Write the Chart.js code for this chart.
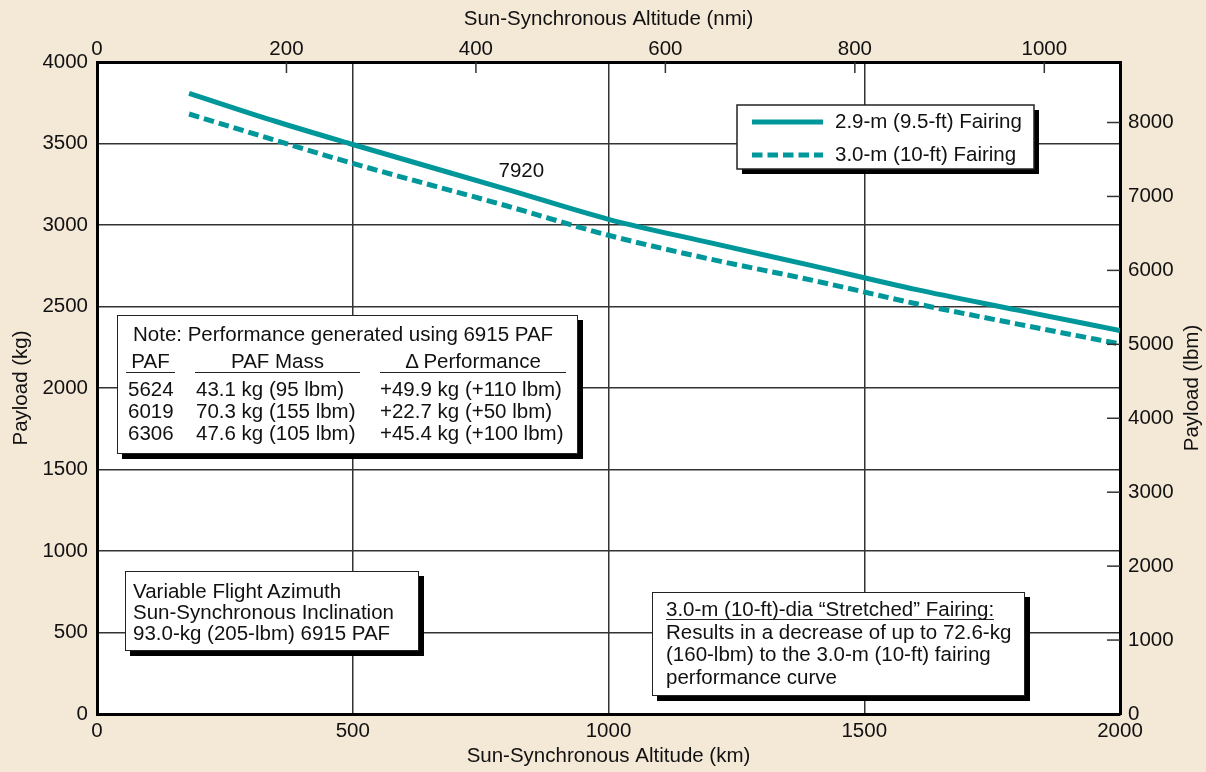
<!DOCTYPE html>
<html>
<head>
<meta charset="utf-8">
<script src="https://cdn.jsdelivr.net/npm/chart.js@4.4.1/dist/chart.umd.min.js"></script>
<style>
body { margin: 0; background: #f4e8d7; }
#wrap { position: relative; width: 1206px; height: 772px; font-family: "Liberation Sans", Arial, sans-serif; font-size: 20.5px; color: #111; }
#wrap canvas { position: absolute; left: 0; top: 0; }
.box { position: absolute; background: #fff; border: 1.5px solid #222; box-shadow: 5px 5px 0 #000; box-sizing: border-box; }
.box div { position: absolute; white-space: nowrap; line-height: 22px; }
.hd { text-align: center; border-bottom: 1.5px solid #222; }
</style>
</head>
<body>
<div id="wrap">
  <canvas id="payloadChart" width="1206" height="772"></canvas>

  <div class="box" style="left:117px;top:315px;width:461px;height:139px;">
    <div style="left:15px;top:7px;">Note: Performance generated using 6915 PAF</div>
    <div class="hd" style="left:8px;top:34px;width:49px;">PAF</div>
    <div class="hd" style="left:77px;top:34px;width:165px;">PAF Mass</div>
    <div class="hd" style="left:262px;top:34px;width:186px;">&Delta; Performance</div>
    <div style="left:10px;top:62px;">5624</div>
    <div style="left:78px;top:62px;">43.1 kg (95 lbm)</div>
    <div style="left:262px;top:62px;">+49.9 kg (+110 lbm)</div>
    <div style="left:10px;top:84px;">6019</div>
    <div style="left:78px;top:84px;">70.3 kg (155 lbm)</div>
    <div style="left:262px;top:84px;">+22.7 kg (+50 lbm)</div>
    <div style="left:10px;top:106px;">6306</div>
    <div style="left:78px;top:106px;">47.6 kg (105 lbm)</div>
    <div style="left:262px;top:106px;">+45.4 kg (+100 lbm)</div>
  </div>

  <div class="box" style="left:125px;top:571px;width:294px;height:80px;">
    <div style="left:7px;top:8px;">Variable Flight Azimuth</div>
    <div style="left:7px;top:29px;">Sun-Synchronous Inclination</div>
    <div style="left:7px;top:50px;">93.0-kg (205-lbm) 6915 PAF</div>
  </div>

  <div class="box" style="left:652px;top:592px;width:373px;height:104px;">
    <div style="left:13px;top:5px;border-bottom:1.5px solid #222;line-height:21px;">3.0-m (10-ft)-dia &ldquo;Stretched&rdquo; Fairing:</div>
    <div style="left:13px;top:28px;">Results in a decrease of up to 72.6-kg</div>
    <div style="left:13px;top:50px;">(160-lbm) to the 3.0-m (10-ft) fairing</div>
    <div style="left:13px;top:73px;">performance curve</div>
  </div>
</div>

<script>
// curves (km, kg)
var altitudeKm = [180, 350, 500, 800, 1000, 1200, 1400, 1600, 1800, 2000];
var payload29Kg = [3808, 3635, 3494, 3220, 3035, 2890, 2749, 2605, 2478, 2352];
var payload30Kg = [3681, 3518, 3378, 3118, 2937, 2790, 2660, 2518, 2392, 2270];

var seriesNames = ['2.9-m (9.5-ft) Fairing', '3.0-m (10-ft) Fairing'];

var kmTicks = [0, 500, 1000, 1500, 2000];
var nmiTicks = [0, 200, 400, 600, 800, 1000];
var kgTicks = [0, 500, 1000, 1500, 2000, 2500, 3000, 3500, 4000];
var lbmTicks = [0, 1000, 2000, 3000, 4000, 5000, 6000, 7000, 8000];

var KM_PER_NMI = 1.852;
var LBM_PER_KG = 2.20462;

var teal = '#00979b';
var pageBg = '#f4e8d7';

Chart.defaults.font.family = '"Liberation Sans", Arial, sans-serif';
Chart.defaults.font.size = 20.5;
Chart.defaults.color = '#111';

function pts(ys) {
  return altitudeKm.map(function (x, i) { return { x: x, y: ys[i] }; });
}
function useTicks(list) {
  return function (s) { s.ticks = list.map(function (v) { return { value: v }; }); };
}
function plain(v) { return String(v); }

var decor = {
  id: 'decor',
  beforeDraw: function (chart) {
    var c = chart.ctx, a = chart.chartArea;
    c.save();
    c.fillStyle = pageBg;
    c.fillRect(0, 0, chart.width, chart.height);
    c.fillStyle = '#fff';
    c.fillRect(a.left, a.top, a.right - a.left, a.bottom - a.top);
    c.restore();
  },
  afterDraw: function (chart) {
    var c = chart.ctx, a = chart.chartArea;
    var sx2 = chart.scales.x2, sy2 = chart.scales.y2;
    c.save();
    // inside tick marks for top and right axes
    c.strokeStyle = '#333';
    c.lineWidth = 1.5;
    nmiTicks.forEach(function (v) {
      if (v === 0) return;
      var px = sx2.getPixelForValue(v);
      c.beginPath(); c.moveTo(px, a.top); c.lineTo(px, a.top + 11); c.stroke();
    });
    lbmTicks.forEach(function (v) {
      if (v === 0) return;
      var py = sy2.getPixelForValue(v);
      c.beginPath(); c.moveTo(a.right, py); c.lineTo(a.right - 13, py); c.stroke();
    });

    // right axis title, reading bottom to top
    c.fillStyle = '#111';
    c.font = '20.5px "Liberation Sans", Arial, sans-serif';
    c.textAlign = 'center';
    c.textBaseline = 'middle';
    c.translate(1192, (a.top + a.bottom) / 2);
    c.rotate(-Math.PI / 2);
    c.fillText('Payload (lbm)', 0, 0);
    c.setTransform(1, 0, 0, 1, 0, 0);

    // stray value label
    c.textAlign = 'left';
    c.fillText('7920', chart.scales.x.getPixelForValue(785), chart.scales.y.getPixelForValue(3331));

    // legend box
    var bx = 737, by = 105, bw = 297, bh = 64;
    c.fillStyle = '#000';
    c.fillRect(bx + 5, by + 5, bw, bh);
    c.fillStyle = '#fff';
    c.fillRect(bx, by, bw, bh);
    c.strokeStyle = '#222';
    c.lineWidth = 1.5;
    c.strokeRect(bx, by, bw, bh);
    chart.data.datasets.forEach(function (ds, i) {
      var ly = by + 17 + i * 33;
      c.strokeStyle = ds.borderColor;
      c.lineWidth = ds.borderWidth;
      c.setLineDash(ds.borderDash || []);
      c.beginPath(); c.moveTo(bx + 15, ly); c.lineTo(bx + 86, ly); c.stroke();
      c.setLineDash([]);
      c.fillStyle = '#111';
      c.fillText(ds.label, bx + 98, ly);
    });
    c.restore();
  }
};

new Chart(document.getElementById('payloadChart'), {
  type: 'line',
  data: {
    datasets: [{
      label: seriesNames[0],
      data: pts(payload29Kg),
      borderColor: teal,
      borderWidth: 5,
      pointRadius: 0,
      cubicInterpolationMode: 'monotone'
    }, {
      label: seriesNames[1],
      data: pts(payload30Kg),
      borderColor: teal,
      borderWidth: 5,
      borderDash: [10.5, 5],
      pointRadius: 0,
      cubicInterpolationMode: 'monotone'
    }]
  },
  options: {
    responsive: false,
    animation: false,
    layout: { padding: 0 },
    plugins: { legend: { display: false }, tooltip: { enabled: false } },
    scales: {
      x: {
        type: 'linear', position: 'bottom', min: 0, max: 2000,
        afterBuildTicks: useTicks(kmTicks),
        afterFit: function (s) { s.height = 58; },
        grid: { color: '#333', lineWidth: 1.5, drawTicks: false },
        border: { color: '#000', width: 3 },
        ticks: { padding: 5, maxRotation: 0, autoSkip: false, callback: plain },
        title: { display: true, text: 'Sun-Synchronous Altitude (km)', padding: { top: 0, bottom: 3 } }
      },
      x2: {
        type: 'linear', position: 'top', min: 0, max: 2000 / KM_PER_NMI,
        afterBuildTicks: useTicks(nmiTicks),
        afterFit: function (s) { s.height = 62; },
        grid: { drawOnChartArea: false, drawTicks: false },
        border: { color: '#000', width: 3 },
        ticks: { padding: 0, maxRotation: 0, autoSkip: false, callback: plain },
        title: { display: true, text: 'Sun-Synchronous Altitude (nmi)', padding: { top: 7, bottom: 0 } }
      },
      y: {
        type: 'linear', position: 'left', min: 0, max: 4000,
        afterBuildTicks: useTicks(kgTicks),
        afterFit: function (s) { s.width = 97; },
        grid: { color: '#333', lineWidth: 1.5, drawTicks: false },
        border: { color: '#000', width: 3 },
        ticks: { padding: 9, autoSkip: false, callback: plain },
        title: { display: true, text: 'Payload (kg)', padding: { top: 9, bottom: 0 } }
      },
      y2: {
        type: 'linear', position: 'right', min: 0, max: 4000 * LBM_PER_KG,
        afterBuildTicks: useTicks(lbmTicks),
        afterFit: function (s) { s.width = 86; },
        grid: { drawOnChartArea: false, drawTicks: false },
        border: { color: '#000', width: 3 },
        ticks: { padding: 8, autoSkip: false, callback: plain }
      }
    }
  },
  plugins: [decor]
});
</script>
</body>
</html>
